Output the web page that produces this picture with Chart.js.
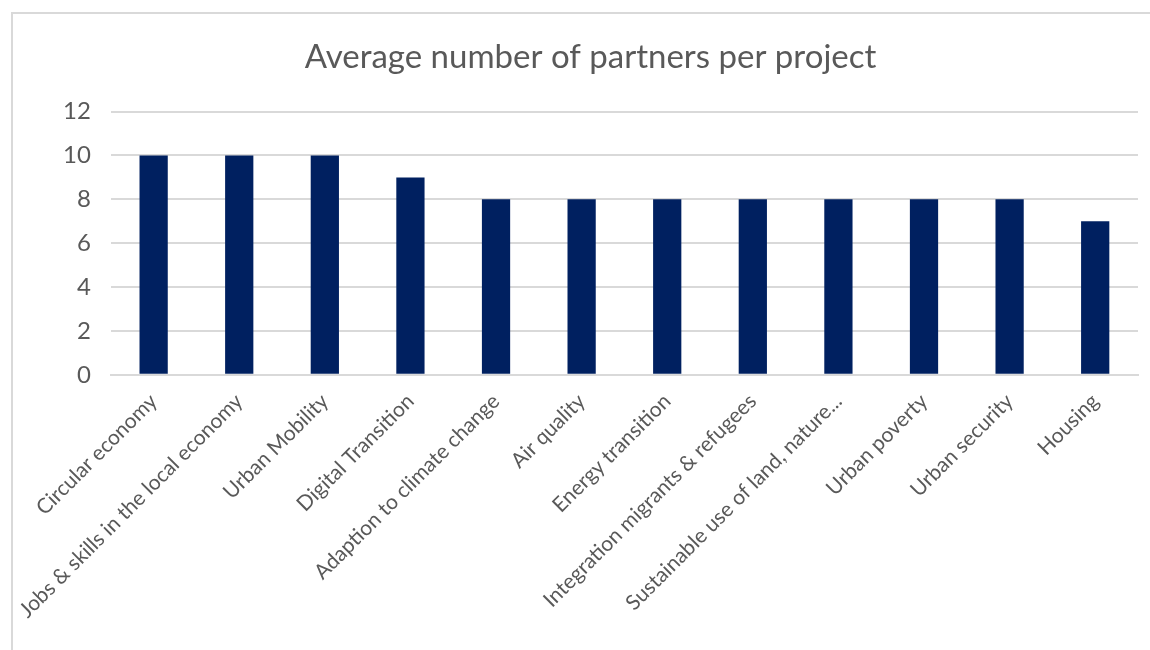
<!DOCTYPE html>
<html>
<head>
<meta charset="utf-8">
<script src="https://cdn.jsdelivr.net/npm/chart.js@4/dist/chart.umd.min.js"></script>
<style>
  html, body { margin: 0; padding: 0; background: #fff; }
  .frame {
    position: absolute; left: 11px; top: 12px;
    width: 1150px; height: 650px;
    border-left: 2px solid #d9d9d9; border-top: 2px solid #d9d9d9;
  }
  .wrap { position: absolute; left: 0; top: 0; width: 1150px; height: 650px; }
</style>
</head>
<body>
<div class="frame"></div>
<div class="wrap"><canvas id="chart"></canvas></div>
<script>
/* themes and average partners per project */
const themes = [
  "Circular economy",
  "Jobs & skills in the local economy",
  "Urban Mobility",
  "Digital Transition",
  "Adaption to climate change",
  "Air quality",
  "Energy transition",
  "Integration migrants & refugees",
  "Sustainable use of land, nature...",
  "Urban poverty",
  "Urban security",
  "Housing"
];
const avgPartners = [10, 10, 10, 9, 8, 8, 8, 8, 8, 8, 8, 7];
const yTicks = [0, 2, 4, 6, 8, 10, 12];

const FONT = "Lato, 'Open Sans', sans-serif";
const GREY = "#595959";

new Chart(document.getElementById("chart"), {
  type: "bar",
  data: {
    labels: themes,
    datasets: [{
      data: avgPartners,
      backgroundColor: "#002060",
      borderColor: "#002060",
      borderWidth: 0,
      categoryPercentage: 1,
      barPercentage: 0.33
    }]
  },
  options: {
    responsive: true,
    maintainAspectRatio: false,
    animation: false,
    layout: { padding: { left: 43, right: 12, top: 38, bottom: 21 } },
    plugins: {
      legend: { display: false },
      tooltip: { enabled: false },
      title: {
        display: true,
        text: "Average number of partners per project",
        color: GREY,
        font: { family: FONT, size: 33, weight: "normal" },
        padding: { top: 0, bottom: 34 }
      }
    },
    scales: {
      x: {
        grid: { display: false },
        border: { color: "#d9d9d9", width: 2 },
        ticks: {
          color: GREY,
          font: { family: FONT, size: 21 },
          maxRotation: 45,
          minRotation: 45,
          autoSkip: false,
          padding: 6
        }
      },
      y: {
        min: 0,
        max: 12,
        afterBuildTicks: axis => { axis.ticks = yTicks.map(v => ({ value: v })); },
        grid: { color: "#d9d9d9", lineWidth: 2, drawTicks: false },
        border: { display: false },
        ticks: {
          color: GREY,
          font: { family: FONT, size: 24 },
          padding: 20
        }
      }
    }
  }
});
</script>
</body>
</html>
